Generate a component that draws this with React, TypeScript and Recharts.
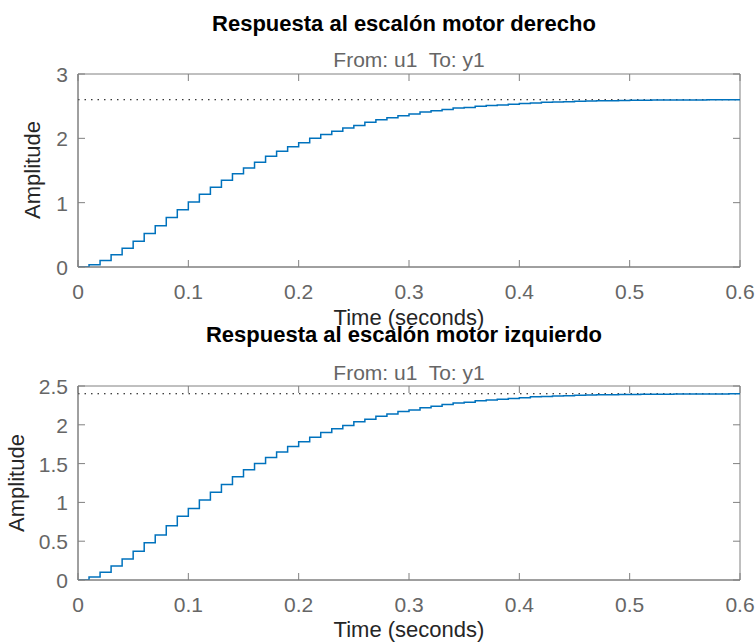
import React from 'react';
import { LineChart, Line, XAxis, YAxis, ReferenceLine, ReferenceArea } from 'recharts';

// sample instants of the discrete step response (Ts = 0.01 s)
const timeSeconds = [
  0, 0.01, 0.02, 0.03, 0.04, 0.05, 0.06, 0.07, 0.08, 0.09,
  0.1, 0.11, 0.12, 0.13, 0.14, 0.15, 0.16, 0.17, 0.18, 0.19,
  0.2, 0.21, 0.22, 0.23, 0.24, 0.25, 0.26, 0.27, 0.28, 0.29,
  0.3, 0.31, 0.32, 0.33, 0.34, 0.35, 0.36, 0.37, 0.38, 0.39,
  0.4, 0.41, 0.42, 0.43, 0.44, 0.45, 0.46, 0.47, 0.48, 0.49,
  0.5, 0.51, 0.52, 0.53, 0.54, 0.55, 0.56, 0.57, 0.58, 0.59,
  0.6,
];

const rightMotorAmplitude = [
  0, 0.036, 0.1, 0.19, 0.29, 0.4, 0.52, 0.64, 0.77, 0.89,
  1.01, 1.13, 1.24, 1.35, 1.45, 1.54, 1.63, 1.72, 1.8, 1.87,
  1.93, 2.0, 2.06, 2.11, 2.16, 2.2, 2.25, 2.29, 2.32, 2.35,
  2.38, 2.41, 2.43, 2.45, 2.47, 2.48, 2.5, 2.51, 2.52, 2.53,
  2.54, 2.55, 2.56, 2.565, 2.57, 2.575, 2.58, 2.583, 2.586, 2.589,
  2.591, 2.593, 2.594, 2.595, 2.596, 2.597, 2.597, 2.598, 2.598, 2.599,
  2.599,
];

const leftMotorAmplitude = [
  0, 0.04, 0.1, 0.18, 0.27, 0.37, 0.48, 0.58, 0.7, 0.82,
  0.92, 1.03, 1.13, 1.23, 1.33, 1.42, 1.5, 1.58, 1.65, 1.72,
  1.78, 1.84, 1.9, 1.95, 1.99, 2.04, 2.07, 2.11, 2.14, 2.17,
  2.19, 2.22, 2.24, 2.26, 2.28, 2.29, 2.31, 2.32, 2.33, 2.34,
  2.35, 2.36, 2.365, 2.37, 2.375, 2.38, 2.383, 2.386, 2.388, 2.39,
  2.392, 2.393, 2.394, 2.395, 2.396, 2.397, 2.397, 2.398, 2.398, 2.399,
  2.399,
];

const timeTicks = [0, 0.1, 0.2, 0.3, 0.4, 0.5, 0.6];
const rightTicks = [0, 1, 2, 3];
const leftTicks = [0, 0.5, 1, 1.5, 2, 2.5];
const rightSteady = 2.6;
const leftSteady = 2.4;

const FONT = '"Liberation Sans", Arial, Helvetica, sans-serif';
const AXIS = '#808080';
const TICK_TEXT = '#666666';
const LABEL = '#262626';
const BLUE = '#0072BD';
const TICK_LEN = 7;
const PLOT_W = 662;
const PANEL_H = 330;

function TimeTick(props: any) {
  const { x, y, payload, plotHeight } = props;
  return (
    <g>
      <line x1={x} y1={y} x2={x} y2={y - TICK_LEN} stroke={AXIS} />
      <line x1={x} y1={y - plotHeight} x2={x} y2={y - plotHeight + TICK_LEN} stroke={AXIS} />
      <text x={x} y={y + 32} textAnchor="middle" fill={TICK_TEXT} fontSize={21} fontFamily={FONT}>
        {payload.value}
      </text>
    </g>
  );
}

function AmpTick(props: any) {
  const { x, y, payload } = props;
  return (
    <g>
      <line x1={x} y1={y} x2={x + TICK_LEN} y2={y} stroke={AXIS} />
      <line x1={x + PLOT_W} y1={y} x2={x + PLOT_W - TICK_LEN} y2={y} stroke={AXIS} />
      <text x={x - 10} y={y + 8} textAnchor="end" fill={TICK_TEXT} fontSize={21} fontFamily={FONT}>
        {payload.value}
      </text>
    </g>
  );
}

interface PanelProps {
  values: number[];
  yMax: number;
  yTicks: number[];
  steady: number;
  top: number;
  plotHeight: number;
}

function StepPanel({ values, yMax, yTicks, steady, top, plotHeight }: PanelProps) {
  const data = timeSeconds.map((t, i) => ({ t, y: values[i] }));
  const bottomMargin = PANEL_H - 74 - plotHeight;
  return (
    <div style={{ position: 'absolute', left: 0, top, width: 755, height: PANEL_H }}>
      <LineChart
        width={755}
        height={PANEL_H}
        data={data}
        margin={{ top: 74, right: 15, bottom: bottomMargin - 1, left: 77 }}
      >
        <XAxis
          dataKey="t"
          type="number"
          domain={[0, 0.6]}
          ticks={timeTicks}
          interval={0}
          height={1}
          tickSize={0}
          tickMargin={0}
          tickLine={false}
          axisLine={{ stroke: AXIS }}
          allowDataOverflow
          tick={(p: any) => <TimeTick {...p} plotHeight={plotHeight} />}
        />
        <YAxis
          type="number"
          domain={[0, yMax]}
          ticks={yTicks}
          interval={0}
          width={1}
          tickSize={0}
          tickMargin={0}
          tickLine={false}
          axisLine={{ stroke: AXIS }}
          allowDataOverflow
          tick={(p: any) => <AmpTick {...p} />}
        />
        <ReferenceArea x1={0} x2={0.6} y1={0} y2={yMax} fill="none" stroke={AXIS} strokeWidth={1} />
        <ReferenceLine y={steady} stroke="#000000" strokeDasharray="1.5 5" strokeWidth={1} />
        <Line
          type="stepAfter"
          dataKey="y"
          stroke={BLUE}
          strokeWidth={1.5}
          dot={false}
          activeDot={false}
          isAnimationActive={false}
        />
      </LineChart>
    </div>
  );
}

export default function App() {
  return (
    <div style={{ position: 'absolute', left: 0, top: 0, width: 755, height: 643, background: '#ffffff', overflow: 'hidden' }}>
      <StepPanel values={rightMotorAmplitude} yMax={3} yTicks={rightTicks} steady={rightSteady} top={0} plotHeight={193} />
      <StepPanel values={leftMotorAmplitude} yMax={2.5} yTicks={leftTicks} steady={leftSteady} top={312} plotHeight={194} />
      <svg
        width={755}
        height={643}
        style={{ position: 'absolute', left: 0, top: 0, pointerEvents: 'none' }}
        fontFamily={FONT}
      >
        <text x={404} y={31} textAnchor="middle" fontSize={22} fontWeight="bold" fill="#000">
          Respuesta al escalón motor derecho
        </text>
        <text x={409} y={67} textAnchor="middle" fontSize={21} fill={TICK_TEXT} style={{ whiteSpace: 'pre' }}>
          {'From: u1  To: y1'}
        </text>
        <text x={409} y={325} textAnchor="middle" fontSize={22} fill={LABEL}>
          Time (seconds)
        </text>
        <text x={40} y={170} textAnchor="middle" fontSize={22} fill={LABEL} transform="rotate(-90 40 170)">
          Amplitude
        </text>

        <text x={404} y={342} textAnchor="middle" fontSize={22} fontWeight="bold" fill="#000">
          Respuesta al escalón motor izquierdo
        </text>
        <text x={409} y={380} textAnchor="middle" fontSize={21} fill={TICK_TEXT} style={{ whiteSpace: 'pre' }}>
          {'From: u1  To: y1'}
        </text>
        <text x={409} y={637} textAnchor="middle" fontSize={22} fill={LABEL}>
          Time (seconds)
        </text>
        <text x={24} y={483} textAnchor="middle" fontSize={22} fill={LABEL} transform="rotate(-90 24 483)">
          Amplitude
        </text>
      </svg>
    </div>
  );
}
